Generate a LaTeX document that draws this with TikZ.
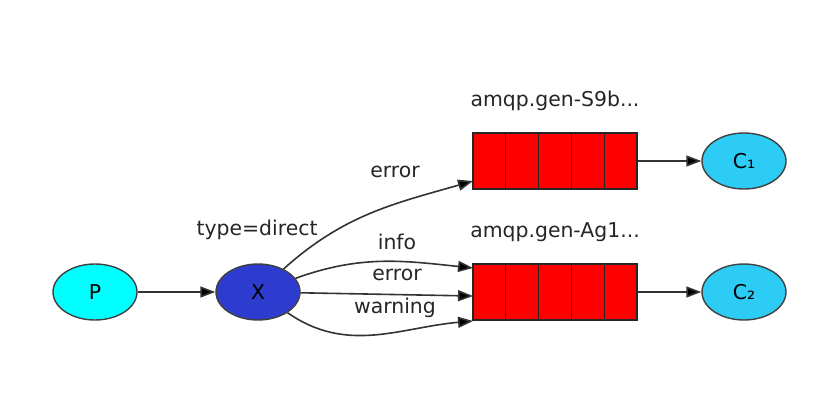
\documentclass[tikz,border=0pt]{standalone}
\usepackage{fontspec}
\setmainfont{DejaVu Sans}
\usetikzlibrary{arrows.meta,calc,shapes.geometric}
\definecolor{pcyan}{RGB}{0,255,255}
\definecolor{xblue}{RGB}{45,59,207}
\definecolor{cblue}{RGB}{44,204,245}
\definecolor{qred}{RGB}{255,0,0}

\begin{document}
\begin{tikzpicture}[
        x=0.5pt,
        y=-0.5pt,
        font=\fontsize{10.2}{12}\selectfont,
        edge/.style={draw=black!80, line width=0.8pt, -{Triangle[length=7.5pt,width=5.5pt,fill=black]}},
        client/.style={draw=black!75, ellipse, line width=0.7pt, minimum width=42pt, minimum height=28pt, inner sep=0pt},
        queue/.style={draw=black!85, fill=qred, line width=0.7pt, minimum width=82pt, minimum height=28pt, inner sep=0pt},
        cell/.style={draw=black!85, line width=0.7pt},
        lbl/.style={inner sep=1pt, text=black!85}
    ]
        \useasboundingbox (0,0) rectangle (830,412);

        \node[client, fill=pcyan] (p) at (95,292) {P};
        \node[client, fill=xblue] (x) at (258,292) {X};
        \node[lbl] (type) at (257,230) {type=direct};
        \draw[edge] (p) -- (x);

        \foreach \i/\y/\name/\cl in {1/161/{amqp.gen-S9b...}/{C₁},2/292/{amqp.gen-Ag1...}/{C₂}}{
            \node[queue] (q\i) at (555,\y) {};
            \foreach \k in {1,...,4}
                \draw[cell] ($(q\i.north west)!\k/5!(q\i.north east)$) -- ($(q\i.south west)!\k/5!(q\i.south east)$);
            \node[lbl] (name\i) at (555,\y-60) {\name};
            \node[client, fill=cblue] (c\i) at (744,\y) {\cl};
            \draw[edge] (q\i) -- (c\i);
        }

        % binding ends on the queues
        \coordinate (q1in) at (473,181);
        \coordinate (q2top) at (473,268);
        \coordinate (q2mid) at (473,296);
        \coordinate (q2bot) at (473,321);

        \draw[edge] (x) to[out=42, in=196] (q1in);
        \draw[edge] (x) to[out=20, in=174] (q2top);
        \draw[edge] (x) -- (q2mid);
        \draw[edge] (x) to[out=-35, in=185] (q2bot);

        \node[lbl] (err1) at (395,172) {error};
        \node[lbl] (info) at (397,242) {info};
        \node[lbl] (err2) at (397,275) {error};
        \node[lbl] (warn) at (395,308) {warning};
    \end{tikzpicture}
\end{document}
